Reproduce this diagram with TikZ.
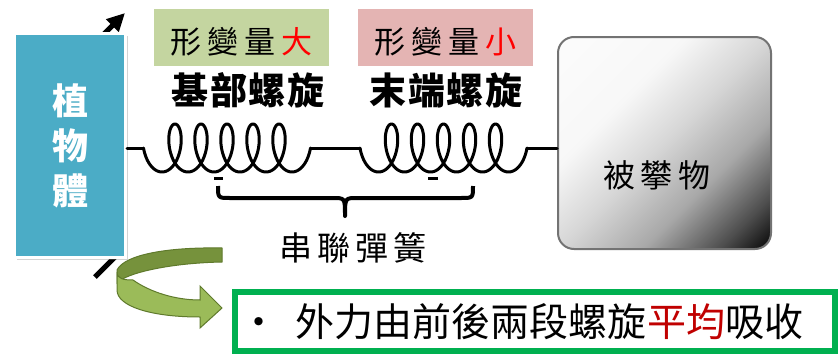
\documentclass[tikz,border=0pt]{standalone}
\usepackage{fontspec}
\setmainfont{Noto Sans CJK TC}
\usetikzlibrary{arrows.meta,positioning,calc,shadows}

\definecolor{plantblue}{HTML}{4BACC6}
\definecolor{tagolive}{HTML}{C4D5A0}
\definecolor{tagrose}{HTML}{E4B4B3}
\definecolor{notegreen}{HTML}{00B050}
\definecolor{darkred}{HTML}{C00000}
\definecolor{ribbondark}{HTML}{76923C}
\definecolor{ribbonlight}{HTML}{9BBB59}
\definecolor{ribbonedge}{HTML}{5F7A2C}

% light top-left, dark bottom-right corner
\pgfdeclarehorizontalshading{climbshade}{100bp}{color(0bp)=(white); color(36bp)=(black!3);
  color(50bp)=(black!16); color(64bp)=(black!34); color(77bp)=(black!70); color(86bp)=(black);
  color(100bp)=(black)}

% set characters with a fixed gap between them
\makeatletter
\def\spread@end{\spread@end}
\newcommand\spread[2]{\def\spread@gap{\hspace{#1}}\spread@first#2\spread@end}
\def\spread@first#1{{#1}\spread@next}
\def\spread@next#1{\ifx\spread@end#1\else\spread@gap{#1}\expandafter\spread@next\fi}
\makeatother

\begin{document}
\begin{tikzpicture}[
  x=1pt, y=-1pt,
  every node/.style={inner sep=0pt},
  wire/.style={line width=3pt, line join=round, line cap=round},
  plant/.style={draw=white, line width=3pt, fill=plantblue, text=white, align=center,
                minimum width=111pt, minimum height=224pt,
                font=\bfseries\fontsize{36}{45}\selectfont,
                drop shadow={shadow xshift=2pt, shadow yshift=-2pt, opacity=.35}},
  tag/.style={minimum width=175pt, minimum height=57pt, text height=36pt, text depth=4pt,
              font=\fontsize{31}{31}\selectfont},
  coilname/.style={font=\bfseries\fontsize{37}{37}\selectfont},
  target/.style={draw=black!55, line width=2pt, rounded corners=16pt,
                 shading=climbshade, shading angle=-45,
                 minimum width=213pt, minimum height=212pt},
  note/.style={draw=notegreen, line width=6pt, fill=white, minimum height=59pt,
               text width=584pt, inner xsep=8pt, align=left,
               font=\fontsize{39}{39}\selectfont},
  spring/.pic={\draw[wire] plot[domain=90:2070, samples=400, smooth]
                 ({\x/360*26-12*sin(\x)+5.5}, {-24*cos(\x)});}
]
\useasboundingbox (0,0) rectangle (840,356);

% ===== Plant body with its stem behind =====
\draw[line width=5pt, -{Triangle[length=18pt,width=17pt]}]
  (95,277) -- (119,253) -- (104,34) -- (125,13);
\node[plant] (plant) at (70,145.5) {植\\物\\體};

% ===== Labels above the two coils =====
\node[tag, fill=tagolive] (tagbase) at (241.5,37.5) {\spread{6pt}{形變量{\color{red}大}}};
\node[tag, fill=tagrose]  (tagtip)  at (445.5,37.5) {\spread{6pt}{形變量{\color{red}小}}};
\node[coilname] (basename) at (248,90) {\spread{1.7pt}{基部螺旋}};
\node[coilname] (tipname)  at (446,90) {\spread{1.7pt}{末端螺旋}};

% ----- Object being climbed -----
\node[target] (target) at (664.5,143) {};
\node[font=\fontsize{32}{32}\selectfont] (targetname) at (657,175) {\spread{5.5pt}{被攀物}};

% ===== Springs in series =====
\coordinate (c1in)  at (143.5,148);
\coordinate (c1out) at (310.5,148);
\coordinate (c2in)  at (360,148);
\coordinate (c2out) at (527,148);
\draw[wire] (plant.east |- c1in) -- (c1in);
\pic at (c1in) {spring};
\draw[wire] (c1out) -- (c2in);
\pic at (c2in) {spring};
\draw[wire] (c2out) -- (target.west |- c2out);
\draw[line width=2.5pt] (214,178.5) -- (223,178.5);
\draw[line width=2.5pt] (428,178.5) -- (438,178.5);

% brace under both coils
\draw[line width=4pt, line join=round]
  (218,186) .. controls (218,198) .. (230,198) -- (333,198)
  .. controls (345,198) .. (345,216) .. controls (345,198) .. (357,198)
  -- (461,198) .. controls (473,198) .. (473,186);
\node[font=\fontsize{33}{33}\selectfont] (serieslabel) at (353,248) {\spread{5pt}{串聯彈簧}};

% ===== Turning arrow to the note =====
\filldraw[fill=ribbondark, draw=ribbonedge, line width=1pt]
  (222,248) .. controls (170,247) and (125,254) .. (117,270) -- (117,283)
  .. controls (126,273) and (170,263) .. (222,262) -- cycle;
\filldraw[fill=ribbonlight, draw=ribbonedge, line width=1pt]
  (117,272) .. controls (117,279) and (124,280) .. (133,280)
  .. controls (150,292) and (175,300) .. (200,300) -- (200,286) -- (222,308)
  -- (200,328) -- (200,317) .. controls (150,317) and (117,306) .. (117,290) -- cycle;

\node[note] (note) at (535,321.5)
  {\mbox{\makebox[31pt][c]{•}\hspace{22pt}外力由前後兩段螺旋{\color{darkred}平均}吸收}};
\end{tikzpicture}
\end{document}
